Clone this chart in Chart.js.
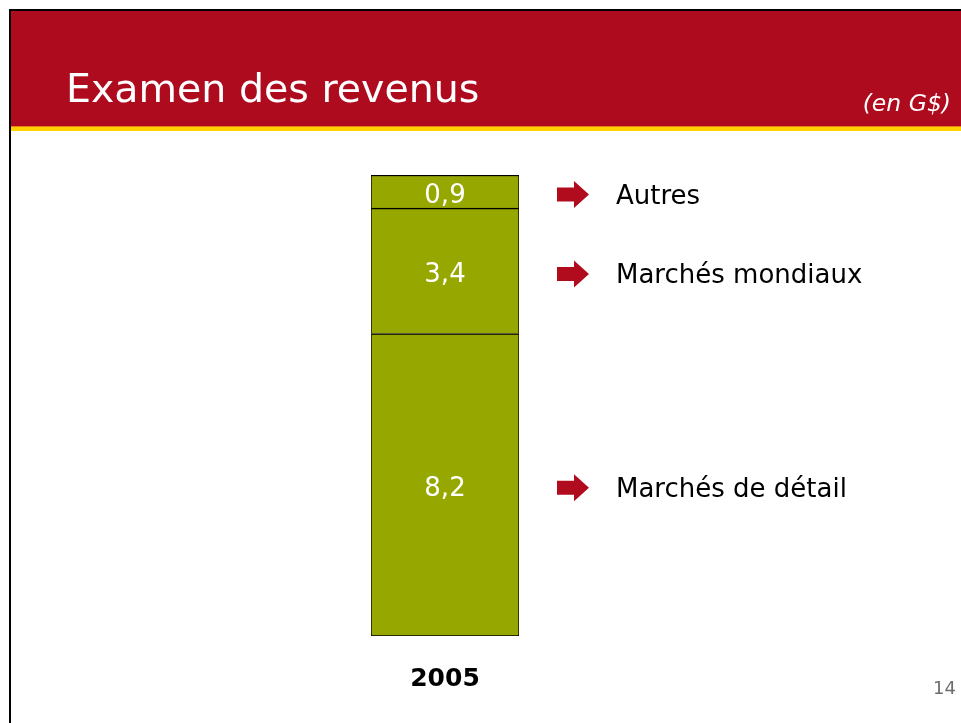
<!DOCTYPE html>
<html><head><meta charset="utf-8">
<script src="https://cdn.jsdelivr.net/npm/chart.js@4/dist/chart.umd.min.js"></script>
<style>
html,body{margin:0;padding:0;background:#fff;width:961px;height:723px;overflow:hidden;}
#wrap{position:absolute;left:0;top:0;width:961px;height:723px;}
</style>
</head><body>
<div id="wrap"><canvas id="c" width="961" height="723"></canvas></div>
<script>
// ---- data ----
const categories = ['2005'];
const segmentNames = ['Marchés de détail', 'Marchés mondiaux', 'Autres'];
const segmentValues = [8.2, 3.4, 0.9];
const titleText = 'Examen des revenus';
const unitText = '(en G$)';
const pageNumber = '14';

const BAR = '#96A800';
const RED = '#AE0C1E';
const ARROW = '#B00C1E';
const YELLOW = '#FFD200';
const FONT = "'DejaVu Sans', Verdana, sans-serif";

const total = segmentValues.reduce((a, b) => a + b, 0);
const fmt = v => v.toFixed(1).replace('.', ',');

const slidePlugin = {
  id: 'slide',
  beforeDraw(chart) {
    const ctx = chart.ctx, W = chart.width, H = chart.height;
    ctx.save();
    ctx.fillStyle = '#fff';
    ctx.fillRect(0, 0, W, H);
    // frame
    ctx.fillStyle = '#000';
    ctx.fillRect(9, 9, W - 9, 2);
    ctx.fillRect(9, 9, 2, H - 9);
    // header band
    ctx.fillStyle = RED;
    ctx.fillRect(11, 11, W - 11, 115);
    ctx.fillStyle = '#E8801A';
    ctx.fillRect(11, 126, W - 11, 1);
    ctx.fillStyle = YELLOW;
    ctx.fillRect(11, 127, W - 11, 4);
    // title
    ctx.fillStyle = '#fff';
    ctx.font = '39.5px ' + FONT;
    ctx.textAlign = 'left';
    ctx.textBaseline = 'alphabetic';
    ctx.fillText(titleText, 66, 101.5);
    ctx.font = 'italic 23.5px ' + FONT;
    ctx.textAlign = 'right';
    ctx.fillText(unitText, 951, 110.5);
    // page number
    ctx.fillStyle = '#6d6d6d';
    ctx.font = '18px ' + FONT;
    ctx.fillText(pageNumber, 956, 694);
    ctx.restore();
  },
  afterDatasetsDraw(chart) {
    const ctx = chart.ctx;
    const area = chart.chartArea;
    const xs = chart.scales.x;
    ctx.save();
    chart.data.datasets.forEach((ds, i) => {
      const meta = chart.getDatasetMeta(i);
      meta.data.forEach((el, j) => {
        const p = el.getProps(['x', 'y', 'base'], true);
        const cy = (p.y + p.base) / 2;
        // value inside bar
        ctx.fillStyle = '#fff';
        ctx.font = '26px ' + FONT;
        ctx.textAlign = 'center';
        ctx.textBaseline = 'alphabetic';
        ctx.fillText(fmt(ds.data[j]), p.x, cy + 1.5 + 26 * 0.3645);
        // arrow
        const ay = cy + 3;
        const ax = area.right + 38;
        ctx.fillStyle = ARROW;
        ctx.beginPath();
        ctx.moveTo(ax, ay - 7);
        ctx.lineTo(ax + 17, ay - 7);
        ctx.lineTo(ax + 17, ay - 13.5);
        ctx.lineTo(ax + 32, ay);
        ctx.lineTo(ax + 17, ay + 13.5);
        ctx.lineTo(ax + 17, ay + 7);
        ctx.lineTo(ax, ay + 7);
        ctx.closePath();
        ctx.fill();
        // label
        ctx.fillStyle = '#000';
        ctx.textAlign = 'left';
        ctx.fillText(ds.label, area.right + 97, ay + 26 * 0.3645);
      });
    });
    // category label
    ctx.fillStyle = '#000';
    ctx.font = 'bold 25px ' + FONT;
    ctx.textAlign = 'center';
    ctx.textBaseline = 'alphabetic';
    categories.forEach((c, i) => {
      ctx.fillText(c, xs.getPixelForValue(i), area.bottom + 50);
    });
    ctx.restore();
  }
};

const datasets = segmentNames.map((name, i) => ({
  label: name,
  data: [segmentValues[i]],
  backgroundColor: BAR,
  borderColor: '#000',
  borderWidth: i === 0 ? {top: 1.5, left: 1, right: 1, bottom: 1} : {top: 1.5, left: 1, right: 1, bottom: 0},
  borderSkipped: false,
  barPercentage: 1,
  categoryPercentage: 1
}));

new Chart(document.getElementById('c'), {
  type: 'bar',
  data: { labels: categories, datasets },
  options: {
    responsive: false,
    animation: false,
    events: [],
    layout: { padding: { top: 175, bottom: 87, left: 371, right: 442 } },
    plugins: { legend: { display: false }, tooltip: { enabled: false }, title: { display: false } },
    scales: {
      x: { stacked: true, display: false },
      y: { stacked: true, display: false, min: 0, max: total }
    }
  },
  plugins: [slidePlugin]
});
</script>
</body></html>
